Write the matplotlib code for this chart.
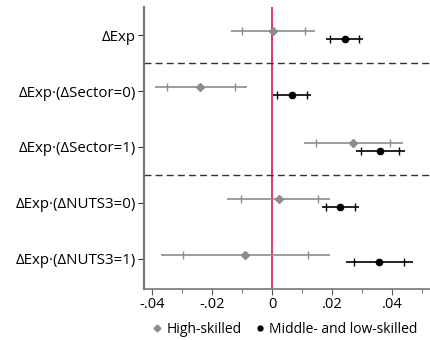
import matplotlib.pyplot as plt
from matplotlib.ticker import MultipleLocator, FuncFormatter
import numpy as np

plt.rcParams['font.family'] = ['Open Sans', 'DejaVu Sans']

labels = ['ΔExp', 'ΔExp·(ΔSector=0)', 'ΔExp·(ΔSector=1)',
          'ΔExp·(ΔNUTS3=0)', 'ΔExp·(ΔNUTS3=1)']

# High-skilled: estimate, inner CI, outer CI
hs_est = [0.0003, -0.0239, 0.0271, 0.0023, -0.0089]
hs_lo90 = [-0.0101, -0.0351, 0.0148, -0.0104, -0.0297]
hs_hi90 = [0.0109, -0.0123, 0.0393, 0.0152, 0.0120]
hs_lo95 = [-0.0136, -0.0391, 0.0106, -0.0149, -0.0369]
hs_hi95 = [0.0143, -0.0084, 0.0437, 0.0194, 0.0192]

# Middle- and low-skilled
ml_est = [0.0242, 0.0066, 0.0361, 0.0228, 0.0357]
ml_lo90 = [0.0194, 0.0017, 0.0298, 0.0181, 0.0274]
ml_hi90 = [0.0290, 0.0117, 0.0423, 0.0277, 0.0440]
ml_lo95 = [0.0180, 0.0002, 0.0280, 0.0166, 0.0247]
ml_hi95 = [0.0304, 0.0130, 0.0443, 0.0291, 0.0469]

fig = plt.figure(figsize=(4.3, 3.4), dpi=100)
ax = fig.add_axes([0.335, 0.15, 0.665, 0.829])

y = np.arange(len(labels))
off = 0.065

def draw(est, lo90, hi90, lo95, hi95, yy, color, marker, ms):
    ax.hlines(yy, lo95, hi95, color=color, lw=1.2, zorder=2)
    ax.plot(lo90, yy, '|', color=color, ms=6, mew=1, zorder=3)
    ax.plot(hi90, yy, '|', color=color, ms=6, mew=1, zorder=3)
    ax.plot(est, yy, marker, color=color, ms=ms, zorder=4, linestyle='none')

draw(hs_est, hs_lo90, hs_hi90, hs_lo95, hs_hi95, y - off, '#8c8c8c', 'D', 4)
draw(ml_est, ml_lo90, ml_hi90, ml_lo95, ml_hi95, y + off, 'black', 'o', 4.5)

ax.axvline(0, color='#d4145a', lw=1.2, zorder=1)
for yl in [0.5, 2.5]:
    ax.axhline(yl, color='#333333', lw=1, ls=(0, (5, 3)), zorder=1)

ax.set_xlim(-0.0427, 0.0527)
ax.set_ylim(4.54, -0.5)
ax.set_yticks(y)
ax.set_yticklabels(labels, fontsize=10.8)
ax.xaxis.set_major_locator(MultipleLocator(0.02))
ax.xaxis.set_minor_locator(MultipleLocator(0.01))
ax.xaxis.set_major_formatter(FuncFormatter(
    lambda v, _: '0' if abs(v) < 1e-9 else ('{:.2f}'.format(v)).replace('0.', '.')))
ax.tick_params(axis='x', labelsize=10.5, length=4, color='#555555', pad=2)
ax.tick_params(axis='x', which='minor', length=3, color='#555555')
ax.tick_params(axis='y', length=4, color='#333333', pad=2)

for s in ['top', 'right']:
    ax.spines[s].set_visible(False)
ax.spines['left'].set_color('#777777')
ax.spines['left'].set_linewidth(1.6)
ax.spines['bottom'].set_color('#777777')
ax.spines['bottom'].set_linewidth(1.2)

h1, = ax.plot([], [], 'D', color='#8c8c8c', ms=3.5, label='High-skilled')
h2, = ax.plot([], [], 'o', color='black', ms=3.5, label='Middle- and low-skilled')
fig.legend(handles=[h1, h2], loc='center', bbox_to_anchor=(0.663, 0.03),
           ncol=2, frameon=False, fontsize=10, handlelength=0.6,
           handletextpad=0.4, columnspacing=1.0)

fig.savefig('out.png', dpi=100)
